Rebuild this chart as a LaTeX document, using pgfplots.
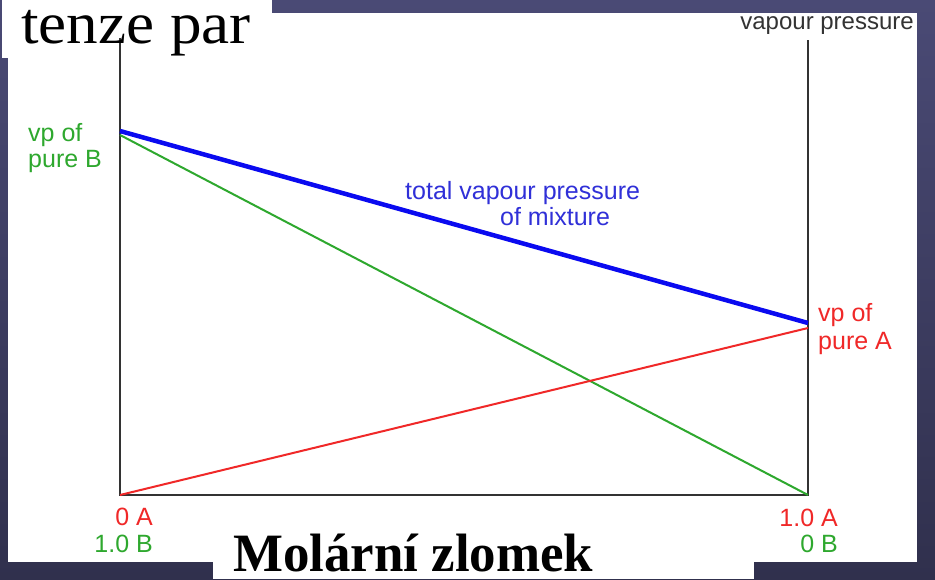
\documentclass[border=0pt]{standalone}
\usepackage{pgfplots}
\pgfplotsset{compat=1.18}
\usepackage{fontspec}
\setmainfont{Liberation Serif}
\newfontfamily\labfont{Liberation Sans}
\definecolor{bgtop}{HTML}{4A4A75}
\definecolor{bgbot}{HTML}{30304D}
\definecolor{vpgreen}{HTML}{2EA82E}
\definecolor{vpred}{HTML}{F02828}
\definecolor{vpblue}{HTML}{0A0AF0}
\definecolor{lblblue}{HTML}{3030D8}
\definecolor{axgray}{HTML}{333333}
\begin{document}
\begin{tikzpicture}[x=1pt,y=1pt]
% background
\shade[top color=bgtop,bottom color=bgbot] (0,0) rectangle (935,579);
\fill[white] (8,17) rectangle (917,566);
\fill[white] (2,521) rectangle (272,579);
\fill[white] (213,0) rectangle (754,54);
\begin{axis}[
  at={(120pt,84pt)}, anchor=south west,
  scale only axis, width=688pt, height=457pt,
  xmin=0, xmax=1, ymin=0, ymax=457,
  hide axis, clip=false,
]
\draw[axgray, line width=2pt] (axis cs:0,457) -- (axis cs:0,0) -- (axis cs:1,0) -- (axis cs:1,455);
\addplot[vpgreen, line width=2pt] coordinates {(0,360) (1,0)};
\addplot[vpred, line width=2pt] coordinates {(0,0) (1,167)};
\addplot[vpblue, line width=4.5pt] coordinates {(0,364) (1,172)};
\end{axis}
% labels
\node[anchor=base west, inner sep=0pt] at (21,535) {\fontsize{59}{62}\selectfont\scalebox{1.07}[1]{tenze par}};
\node[anchor=base east, inner sep=0pt, text=axgray] at (914,549) {\labfont\fontsize{24}{28}\selectfont vapour pressure};
\node[anchor=base west, inner sep=0pt, text=vpgreen] at (28,437) {\labfont\fontsize{25}{28}\selectfont vp of};
\node[anchor=base west, inner sep=0pt, text=vpgreen] at (28,411) {\labfont\fontsize{25}{28}\selectfont pure B};
\node[anchor=base west, inner sep=0pt, text=lblblue] at (405,379) {\labfont\fontsize{25}{28}\selectfont total vapour pressure};
\node[anchor=base west, inner sep=0pt, text=lblblue] at (500,353) {\labfont\fontsize{25}{28}\selectfont of mixture};
\node[anchor=base west, inner sep=0pt, text=vpred] at (818,257) {\labfont\fontsize{25}{28}\selectfont vp of};
\node[anchor=base west, inner sep=0pt, text=vpred] at (818,229) {\labfont\fontsize{25}{28}\selectfont pure A};
\node[anchor=base east, inner sep=0pt, text=vpred] at (153,54) {\labfont\fontsize{25}{28}\selectfont 0 A};
\node[anchor=base east, inner sep=0pt, text=vpgreen] at (153,27) {\labfont\fontsize{25}{28}\selectfont 1.0 B};
\node[anchor=base east, inner sep=0pt, text=vpred] at (838,53) {\labfont\fontsize{25}{28}\selectfont 1.0 A};
\node[anchor=base east, inner sep=0pt, text=vpgreen] at (838,27) {\labfont\fontsize{25}{28}\selectfont 0 B};
\node[anchor=base west, inner sep=0pt] at (233,8) {\fontsize{54}{58}\selectfont\bfseries\scalebox{0.98}[1]{Molární zlomek}};
\pgfresetboundingbox
\useasboundingbox (0,0) rectangle (935,579);
\end{tikzpicture}
\end{document}
